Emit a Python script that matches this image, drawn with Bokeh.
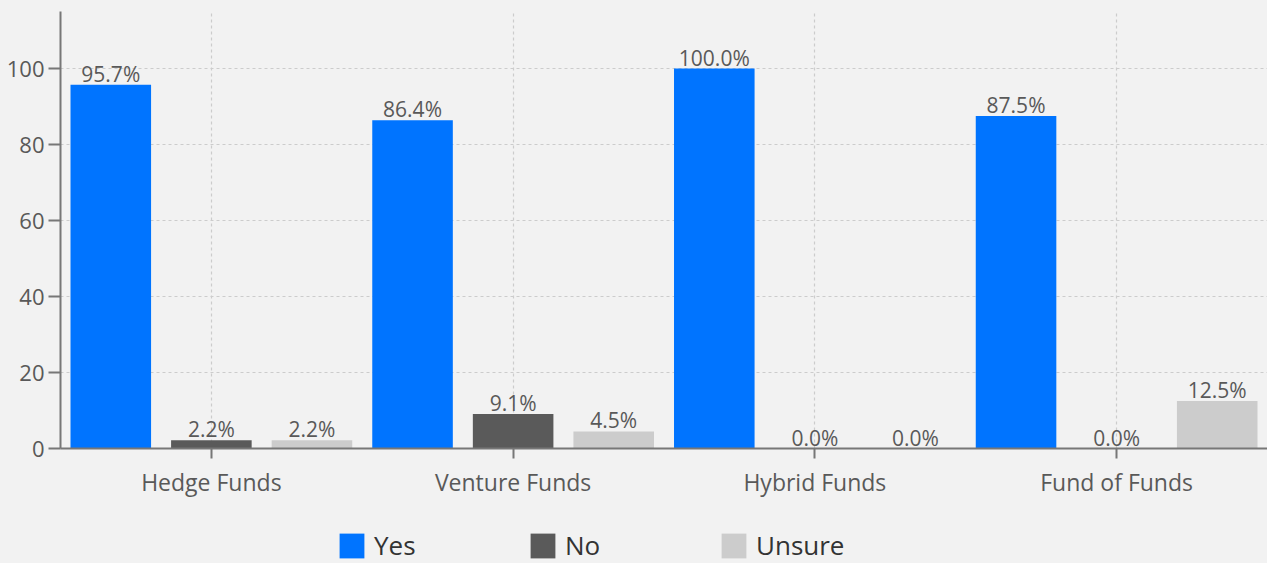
from bokeh.plotting import figure
from bokeh.layouts import column
from bokeh.models import ColumnDataSource, FactorRange, Range1d, Legend, LegendItem, FixedTicker
from bokeh.transform import dodge
from bokeh.core.properties import value
from bokeh.embed import file_html
from bokeh.resources import INLINE

categories = ["Hedge Funds", "Venture Funds", "Hybrid Funds", "Fund of Funds"]
series = ["Yes", "No", "Unsure"]
yes_vals = [95.7, 86.4, 100.0, 87.5]
no_vals = [2.2, 9.1, 0.0, 0.0]
unsure_vals = [2.2, 4.5, 0.0, 12.5]
y_ticks = [0, 20, 40, 60, 80, 100]
colors = ["#0074ff", "#5a5a5a", "#cccccc"]

FONT = "Open Sans"
TXT = "#595959"
BG = "#f2f2f2"

src = ColumnDataSource(dict(
    cat=categories,
    Yes=yes_vals, No=no_vals, Unsure=unsure_vals,
    Yes_lbl=[f"{v:.1f}%" for v in yes_vals],
    No_lbl=[f"{v:.1f}%" for v in no_vals],
    Unsure_lbl=[f"{v:.1f}%" for v in unsure_vals],
))

MAIN_H = 525
p = figure(x_range=FactorRange(*categories, range_padding=0),
           y_range=Range1d(0, 115),
           width=1267, height=MAIN_H, output_backend="svg", toolbar_location=None,
           min_border_left=60, min_border_right=0, min_border_top=11,
           min_border_bottom=MAIN_H - 448)
p.background_fill_color = BG
p.border_fill_color = BG
p.outline_line_color = None

offsets = [-1/3, 0, 1/3]
for s, off, c in zip(series, offsets, colors):
    p.vbar(x=dodge('cat', off, range=p.x_range), top=s, width=0.267,
           source=src, color=c, line_color=None)
    p.text(x=dodge('cat', off, range=p.x_range), y=s, text=s + "_lbl", source=src,
           text_align="center", text_baseline="alphabetic", y_offset=-11,
           text_font=value(FONT), text_font_size="21px", text_color=TXT)

# grids
p.xgrid.grid_line_color = "#cccccc"
p.xgrid.grid_line_dash = "3 3"
p.xgrid.grid_line_width = 1.2
p.ygrid.ticker = FixedTicker(ticks=y_ticks)
p.ygrid.grid_line_color = "#cccccc"
p.ygrid.grid_line_dash = "3 3"
p.ygrid.grid_line_width = 1.2

# axes
p.yaxis.ticker = FixedTicker(ticks=y_ticks)
for ax in (p.xaxis[0], p.yaxis[0]):
    ax.axis_line_color = "#777777"
    ax.axis_line_width = 2
    ax.major_tick_line_color = "#777777"
    ax.major_tick_line_width = 2
    ax.minor_tick_line_color = None
    ax.major_tick_in = 0
    ax.major_label_text_font = FONT
    ax.major_label_text_color = TXT
p.yaxis.major_label_text_font_size = "22px"
p.xaxis.major_label_text_font_size = "23px"
p.yaxis.major_tick_out = 12
p.yaxis.major_label_standoff = 4
p.xaxis.major_tick_out = 10
p.xaxis.major_label_standoff = 7

# legend strip (bars of the same data, drawn out of view, only to feed the legend)
LEG_H = 563 - MAIN_H
lg = figure(width=1267, height=LEG_H, output_backend="svg", toolbar_location=None,
            x_axis_location=None, y_axis_location=None,
            x_range=FactorRange(*categories, range_padding=0), y_range=Range1d(200, 300),
            min_border=0, min_border_left=0, min_border_right=0,
            min_border_top=0, min_border_bottom=0)
lg.background_fill_color = BG
lg.border_fill_color = BG
lg.outline_line_color = None
lg.grid.visible = False
leg_renderers = [lg.vbar(x=dodge('cat', off, range=lg.x_range), top=s, width=0.267,
                         source=src, color=c, line_color=None, border_radius=4)
                 for s, off, c in zip(series, offsets, colors)]
legend = Legend(items=[LegendItem(label=s, renderers=[r]) for s, r in zip(series, leg_renderers)],
                orientation="horizontal", location=(276, 0),
                glyph_width=31, glyph_height=31, label_standoff=7, spacing=103,
                label_width=50,
                padding=0, margin=0, border_line_color=None, background_fill_alpha=0,
                label_text_font=FONT, label_text_font_size="26px", label_text_color="#333333")
lg.add_layout(legend, "center")

layout = column(p, lg, spacing=0)
html = file_html(layout, INLINE)
html = html.replace("</head>", "<style>html, body {background:#f2f2f2;}</style></head>", 1)
open("out.html", "w").write(html)
